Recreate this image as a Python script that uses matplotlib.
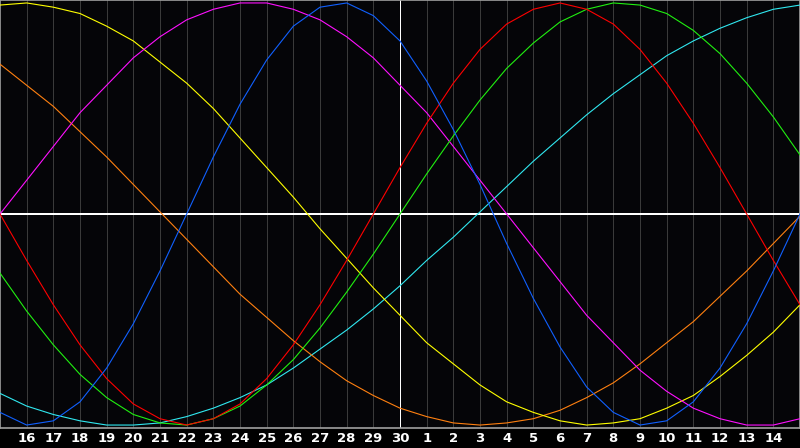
import numpy as np
import matplotlib
matplotlib.use("Agg")
import matplotlib.pyplot as plt

# day labels under the grid lines (15th .. 14th of next month, today = 30)
DAY_LABELS = ['16', '17', '18', '19', '20', '21', '22', '23', '24', '25', '26', '27',
              '28', '29', '30', '1', '2', '3', '4', '5', '6', '7', '8', '9', '10',
              '11', '12', '13', '14']
TODAY_LABEL = '30'

# curve values in percent, one value per day from the 15th to the 15th
physical = [-94, -100, -98, -89, -73, -52, -27, 0, 27, 52, 73, 89, 98, 100, 94, 82,
            63, 40, 14, -14, -40, -63, -82, -94, -100, -98, -89, -73, -52, -27, 0]
emotional = [0, -22, -43, -62, -78, -90, -97, -100, -97, -90, -78, -62, -43, -22, 0, 22,
             43, 62, 78, 90, 97, 100, 97, 90, 78, 62, 43, 22, 0, -22, -43]
intellectual = [-28, -46, -62, -76, -87, -95, -99, -100, -97, -91, -81, -69, -54, -37, -19, 0,
                19, 37, 54, 69, 81, 91, 97, 100, 99, 95, 87, 76, 62, 46, 28]
intuitive = [0, 16, 32, 48, 61, 74, 84, 92, 97, 100, 100, 97, 92, 84, 74, 61,
             48, 32, 16, 0, -16, -32, -48, -61, -74, -84, -92, -97, -100, -100, -97]
aesthetic = [99, 100, 98, 95, 89, 82, 72, 62, 50, 36, 22, 8, -7, -21, -35, -48,
             -61, -71, -81, -89, -94, -98, -100, -99, -97, -92, -86, -77, -67, -56, -43]
awareness = [71, 61, 51, 39, 27, 14, 1, -12, -25, -38, -49, -60, -70, -79, -86, -92,
             -96, -99, -100, -99, -97, -93, -87, -80, -71, -61, -51, -39, -27, -14, -1]
spiritual = [-85, -91, -95, -98, -100, -100, -99, -96, -92, -87, -81, -73, -64, -55, -45, -34,
             -22, -11, 1, 13, 25, 36, 47, 57, 66, 75, 82, 88, 93, 97, 99]

series = [
    (spiritual, '#30e8f0'),
    (awareness, '#ff8010'),
    (aesthetic, '#ffff00'),
    (intuitive, '#ff10ff'),
    (intellectual, '#20f010'),
    (emotional, '#ff0000'),
    (physical, '#1060ff'),
]

fig = plt.figure(figsize=(8, 4.48), dpi=100, facecolor='black')
ax = fig.add_axes([0, 20 / 448, 1, 428 / 448])
ax.set_facecolor('#050508')

days = np.arange(len(physical))
ax.set_xlim(days[0], days[-1])
ax.set_ylim(-101.4, 101.4)

# day grid
for d in days[1:-1]:
    ax.axvline(d, color='#3a3a3a', lw=0.7, zorder=1, antialiased=False)
ax.axhline(0, color='white', lw=1.4, zorder=2, antialiased=False)
ax.axvline(DAY_LABELS.index(TODAY_LABEL) + 1, color='white', lw=0.7, zorder=2,
           antialiased=False)

# thin 1px curves, one vertex per day
for vals, col in series:
    ax.plot(days, vals, color=col, lw=0.8, zorder=3)

ax.set_xticks(days[1:-1])
ax.set_xticklabels(DAY_LABELS, color='white', fontsize=9.5, fontweight='bold')
ax.tick_params(axis='x', length=0, pad=3)
ax.set_yticks([])
for side in ax.spines.values():
    side.set_color('#a0a0a0')
    side.set_linewidth(1.2)

fig.savefig('out.png', dpi=100, facecolor='black')
